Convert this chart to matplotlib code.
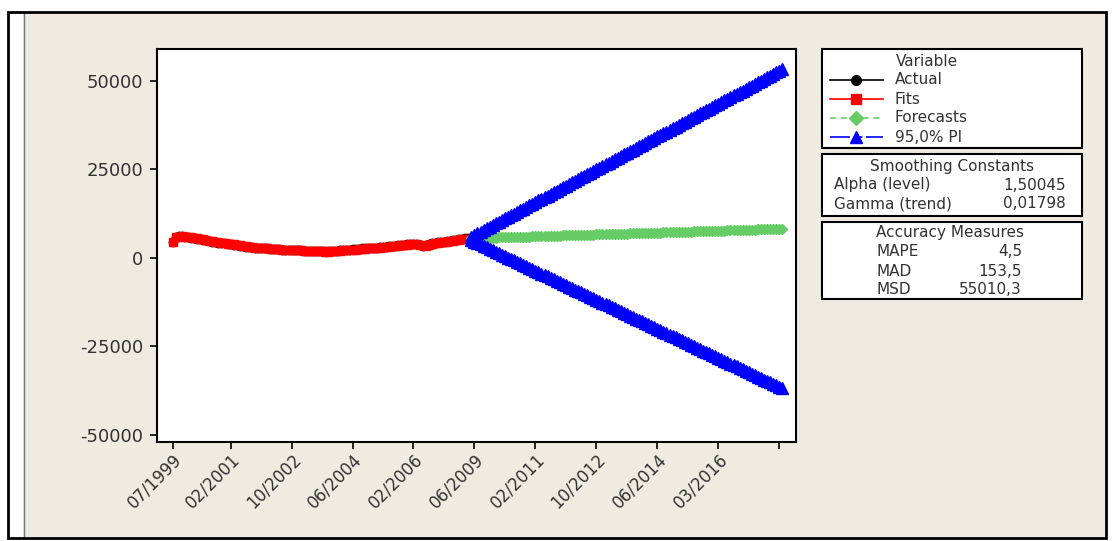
import numpy as np
import matplotlib
matplotlib.use("Agg")
import matplotlib.pyplot as plt
from matplotlib.patches import Rectangle
from matplotlib.lines import Line2D

# ---- data -------------------------------------------------------------
actual = [4600, 6000, 6150, 6100, 5950, 5850, 5750, 5600, 5450, 5300,
          5100, 4950, 4800, 4650, 4500, 4350, 4200, 4100, 4000, 3900,
          3800, 3650, 3500, 3350, 3200, 3100, 3000, 2900, 2850, 2800,
          2750, 2700, 2650, 2600, 2550, 2450, 2400, 2350, 2300, 2250,
          2250, 2200, 2150, 2100, 2050, 2000, 1950, 1900, 1900, 1850,
          1850, 1900, 1950, 2000, 2100, 2200, 2250, 2300, 2400, 2450,
          2550, 2650, 2700, 2750, 2800, 2850, 2900, 2950, 3050, 3100,
          3200, 3300, 3400, 3500, 3600, 3700, 3800, 3900, 3950, 4000,
          3850, 3600, 3500, 3750, 4050, 4250, 4350, 4450, 4550, 4650,
          4750, 4900, 5050, 5150, 5300, 5450, 5550, 5600]

fits = [4500, 5800, 6000, 6100, 6050, 5900, 5800, 5700, 5550, 5400,
        5250, 5050, 4900, 4750, 4600, 4450, 4300, 4150, 4050, 3950,
        3850, 3750, 3600, 3450, 3300, 3150, 3050, 2950, 2850, 2800,
        2750, 2700, 2650, 2600, 2550, 2500, 2400, 2350, 2300, 2250,
        2200, 2200, 2150, 2100, 2050, 2000, 1950, 1900, 1850, 1850,
        1800, 1800, 1850, 1900, 1950, 2050, 2150, 2200, 2250, 2350,
        2400, 2500, 2550, 2650, 2700, 2750, 2800, 2850, 2900, 3000,
        3050, 3150, 3250, 3350, 3450, 3550, 3650, 3750, 3850, 3900,
        3950, 3800, 3550, 3450, 3700, 4000, 4200, 4300, 4400, 4500,
        4600, 4700, 4850, 5000, 5100, 5250, 5400, 5500]

forecasts = [5560, 5590, 5610, 5640, 5670, 5690, 5720, 5750, 5770, 5800,
             5830, 5850, 5880, 5900, 5930, 5960, 5980, 6010, 6040, 6060,
             6090, 6120, 6140, 6170, 6200, 6220, 6250, 6280, 6300, 6330,
             6360, 6380, 6410, 6430, 6460, 6490, 6510, 6540, 6570, 6590,
             6620, 6650, 6670, 6700, 6730, 6750, 6780, 6810, 6830, 6860,
             6890, 6910, 6940, 6960, 6990, 7020, 7040, 7070, 7100, 7120,
             7150, 7180, 7200, 7230, 7260, 7280, 7310, 7340, 7360, 7390,
             7420, 7440, 7470, 7490, 7520, 7550, 7570, 7600, 7630, 7650,
             7680, 7710, 7730, 7760, 7790, 7810, 7840, 7870, 7890, 7920,
             7950, 7970, 8000, 8020, 8050, 8080, 8100, 8130, 8160, 8180,
             8210, 8240, 8260]

pi_upper = [6060, 6520, 6990, 7450, 7910, 8380, 8840, 9300, 9770, 10230,
            10700, 11160, 11620, 12090, 12550, 13010, 13480, 13940, 14400, 14870,
            15330, 15790, 16260, 16720, 17180, 17650, 18110, 18570, 19040, 19500,
            19970, 20430, 20890, 21360, 21820, 22280, 22750, 23210, 23670, 24140,
            24600, 25060, 25530, 25990, 26450, 26920, 27380, 27840, 28310, 28770,
            29240, 29700, 30160, 30630, 31090, 31550, 32020, 32480, 32940, 33410,
            33870, 34330, 34800, 35260, 35720, 36190, 36650, 37110, 37580, 38040,
            38510, 38970, 39430, 39900, 40360, 40820, 41290, 41750, 42210, 42680,
            43140, 43600, 44070, 44530, 44990, 45460, 45920, 46380, 46850, 47310,
            47780, 48240, 48700, 49170, 49630, 50090, 50560, 51020, 51480, 51950,
            52410, 52870, 53340]

pi_lower = [5060, 4650, 4240, 3830, 3420, 3010, 2600, 2190, 1780, 1370,
            960, 540, 130, -280, -690, -1100, -1510, -1920, -2330, -2740,
            -3150, -3560, -3970, -4380, -4790, -5200, -5610, -6020, -6430, -6840,
            -7260, -7670, -8080, -8490, -8900, -9310, -9720, -10130, -10540, -10950,
            -11360, -11770, -12180, -12590, -13000, -13410, -13820, -14230, -14640, -15050,
            -15470, -15880, -16290, -16700, -17110, -17520, -17930, -18340, -18750, -19160,
            -19570, -19980, -20390, -20800, -21210, -21620, -22030, -22440, -22850, -23260,
            -23680, -24090, -24500, -24910, -25320, -25730, -26140, -26550, -26960, -27370,
            -27780, -28190, -28600, -29010, -29420, -29830, -30240, -30650, -31060, -31470,
            -31890, -32300, -32710, -33120, -33530, -33940, -34350, -34760, -35170, -35580,
            -35990, -36400, -36810]

x_tick_pos = [1, 20, 40, 60, 80, 100, 120, 140, 160, 180, 200]
x_tick_labels = ["07/1999", "02/2001", "10/2002", "06/2004", "02/2006", "06/2009",
                 "02/2011", "10/2012", "06/2014", "03/2016", ""]
y_ticks = [-50000, -25000, 0, 25000, 50000]

legend_names = ["Actual", "Fits", "Forecasts", "95,0% PI"]
smoothing = [("Alpha (level)", "1,50045"), ("Gamma (trend)", "0,01798")]
accuracy = [("MAPE", "4,5"), ("MAD", "153,5"), ("MSD", "55010,3")]

# ---- figure ----------------------------------------------------------
W, H = 1115, 541
fig = plt.figure(figsize=(W / 100, H / 100), dpi=100)
fig.patch.set_facecolor("white")

BEIGE = "#EFEBE1"
TXT = "#333333"
GREEN = "#66CC66"


def fx(px):
    return px / W


def fy(py):
    return 1 - py / H


def frect(x0, y0, x1, y1, **kw):
    r = Rectangle((fx(x0), fy(y1)), (x1 - x0) / W, (y1 - y0) / H,
                  transform=fig.transFigure, **kw)
    fig.add_artist(r)
    return r


# window panel and border
frect(23, 13, 1105, 537, facecolor=BEIGE, edgecolor="none", zorder=-2)
fig.add_artist(Line2D([fx(23.5), fx(23.5)], [fy(13), fy(537)], color="#777777",
                      lw=1.0, transform=fig.transFigure, zorder=-1))
frect(8, 12, 1106, 538, facecolor="none", edgecolor="black", lw=2.0, zorder=5)

# ---- main axes -------------------------------------------------------
ax = fig.add_axes([fx(157), fy(442), (796 - 157) / W, (442 - 49) / H])
ax.set_zorder(2)
ax.set_facecolor("white")
for s in ax.spines.values():
    s.set_linewidth(1.5)
    s.set_color("black")

x_act = np.arange(1, len(actual) + 1)
x_fit = np.arange(1, len(fits) + 1)
x_fc = np.arange(len(fits) + 1, len(fits) + 1 + len(forecasts))

ax.plot(x_act, actual, color="black", lw=1.2, marker="o", ms=6, zorder=3)
ax.plot(x_fit, fits, color="red", lw=1.2, marker="s", ms=6, mec="red", zorder=4)
ax.plot(x_fc, forecasts, color=GREEN, lw=1.2, ls="--", marker="D", ms=5.5,
        mec=GREEN, zorder=5)
ax.plot(x_fc, pi_upper, color="blue", lw=1.2, ls="--", marker="^", ms=8.5,
        mec="blue", zorder=6)
ax.plot(x_fc, pi_lower, color="blue", lw=1.2, ls="--", marker="^", ms=8.5,
        mec="blue", zorder=6)

ax.set_xlim(-4.15, 205.5)
ax.set_ylim(-51980, 59040)
ax.set_yticks(y_ticks)
ax.set_yticklabels([str(v) for v in y_ticks])
ax.set_xticks(x_tick_pos)
ax.set_xticklabels(x_tick_labels, rotation=45, ha="right", va="top",
                   rotation_mode="anchor")
ax.tick_params(axis="y", length=5, width=1.2, pad=5, labelsize=13,
               labelcolor=TXT)
ax.tick_params(axis="x", length=5, width=1.2, pad=1, labelsize=12,
               labelcolor=TXT)

# ---- legend / info boxes --------------------------------------------
frect(822, 49, 1082, 148, facecolor="white", edgecolor="black", lw=1.5, zorder=2)
frect(822, 154, 1082, 216, facecolor="white", edgecolor="black", lw=1.5, zorder=2)
frect(822, 222, 1082, 299, facecolor="white", edgecolor="black", lw=1.5, zorder=2)

fs = 11
fig.text(fx(927), fy(62), "Variable", ha="center", va="center", fontsize=fs,
         color=TXT)

styles = [
    dict(color="black", ls="-", marker="o", ms=7),
    dict(color="red", ls="-", marker="s", ms=7),
    dict(color=GREEN, ls=(0, (3.5, 3.0)), marker="D", ms=7),
    dict(color="blue", ls=(0, (12, 4.5, 3, 2)), marker="^", ms=8),
]
rows_y = [80, 99, 118, 137]
for name, st, ry in zip(legend_names, styles, rows_y):
    fig.add_artist(Line2D([fx(830), fx(883)], [fy(ry), fy(ry)], color=st["color"],
                          ls=st["ls"], lw=1.2, transform=fig.transFigure, zorder=6))
    fig.add_artist(Line2D([fx(856)], [fy(ry)], color=st["color"], marker=st["marker"],
                          ms=st["ms"], ls="none", transform=fig.transFigure, zorder=7))
    fig.text(fx(895), fy(ry), name, ha="left", va="center", fontsize=fs, color=TXT)

fig.text(fx(952), fy(166), "Smoothing Constants", ha="center", va="center",
         fontsize=fs, color=TXT)
for (lab, val), ry in zip(smoothing, [185, 204]):
    fig.text(fx(834), fy(ry), lab, ha="left", va="center", fontsize=fs, color=TXT)
    fig.text(fx(1066), fy(ry), val, ha="right", va="center", fontsize=fs, color=TXT)

fig.text(fx(950), fy(233), "Accuracy Measures", ha="center", va="center",
         fontsize=fs, color=TXT)
for (lab, val), ry in zip(accuracy, [252, 271, 290]):
    fig.text(fx(877), fy(ry), lab, ha="left", va="center", fontsize=fs, color=TXT)
    fig.text(fx(1022), fy(ry), val, ha="right", va="center", fontsize=fs, color=TXT)

fig.savefig("out.png", dpi=100, facecolor="white")
